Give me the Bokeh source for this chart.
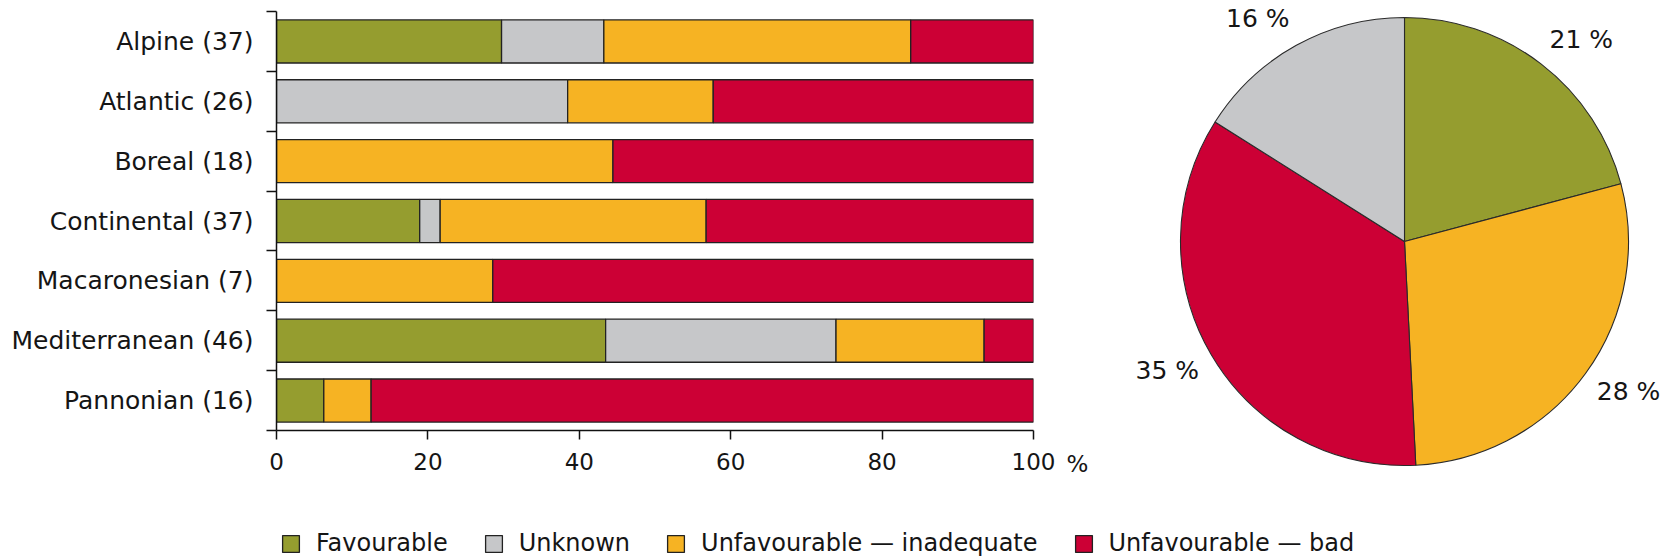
import math
from bokeh.plotting import figure
from bokeh.models import (ColumnDataSource, Range1d, FixedTicker, Legend,
                          LegendItem)
from bokeh.layouts import column, row
from bokeh.embed import file_html
from bokeh.resources import INLINE
from bokeh.core.properties import value

# ---------------- data ----------------
regions = ["Alpine", "Atlantic", "Boreal", "Continental", "Macaronesian",
           "Mediterranean", "Pannonian"]
favourable = [11, 0, 0, 7, 0, 20, 1]
unknown = [5, 10, 0, 1, 0, 14, 0]
inadequate = [15, 5, 8, 13, 2, 9, 1]
bad = [6, 11, 10, 16, 5, 3, 14]
categories = ["Favourable", "Unknown", "Unfavourable \u2014 inadequate",
              "Unfavourable \u2014 bad"]
colors = ["#959d2f", "#c6c7c9", "#f6b323", "#cc0035"]
x_ticks = [0, 20, 40, 60, 80, 100]
x_unit = "%"
pie_order = ["Favourable", "Unfavourable \u2014 inadequate",
             "Unfavourable \u2014 bad", "Unknown"]

FONT = "DejaVu Sans"
TXT = "#151515"
EDGE = "#222222"

# ---------------- bar chart ----------------
series = [favourable, unknown, inadequate, bad]
totals = [sum(v) for v in zip(*series)]
keys = ["fav", "unk", "inad", "bad"]
data = {"y": [i + 0.5 for i in range(len(regions))]}
for k, s in zip(keys, series):
    data[k] = [c / t * 100 for c, t in zip(s, totals)]
src = ColumnDataSource(data)
labels = ["%s (%d)" % (r, t) for r, t in zip(regions, totals)]

p1 = figure(width=1062, height=510, x_range=Range1d(0, 100),
            y_range=Range1d(len(regions), 0), output_backend="svg",
            toolbar_location=None, min_border_left=276, min_border_right=29,
            min_border_top=11, min_border_bottom=80)
p1.frame_align = False
p1.xgrid.visible = False
p1.ygrid.visible = False
p1.outline_line_color = None

p1.hbar_stack(keys, y="y", height=0.72, fill_color=colors, line_color=EDGE,
              line_width=1.3, source=src)

ya = p1.yaxis[0]
ya.ticker = FixedTicker(ticks=data["y"], minor_ticks=list(range(len(regions) + 1)))
ya.major_label_overrides = {y: l for y, l in zip(data["y"], labels)}
ya.major_tick_out = 0
ya.major_tick_in = 0
ya.major_tick_line_color = None
ya.minor_tick_out = 10
ya.minor_tick_in = 0
ya.minor_tick_line_color = "#111111"
ya.minor_tick_line_width = 1.5
ya.axis_line_color = "#111111"
ya.axis_line_width = 1.5
ya.major_label_standoff = 13
ya.major_label_text_font = FONT
ya.major_label_text_font_size = "25px"
ya.major_label_text_color = TXT

xa = p1.xaxis[0]
xa.ticker = FixedTicker(ticks=x_ticks, minor_ticks=[])
xa.major_tick_out = 9
xa.major_tick_in = 0
xa.major_tick_line_color = "#111111"
xa.major_tick_line_width = 1.5
xa.axis_line_color = "#111111"
xa.axis_line_width = 1.5
xa.major_label_standoff = 13
xa.major_label_text_font = FONT
xa.major_label_text_font_size = "23px"
xa.major_label_text_color = TXT

# ---------------- pie chart ----------------
pie_counts = [sum(series[categories.index(c)]) for c in pie_order]
pie_colors = [colors[categories.index(c)] for c in pie_order]
grand = sum(pie_counts)
starts, ends, lx, ly, ltxt, lalign = [], [], [], [], [], []
cum = 0.0
R = 224
for c in pie_counts:
    f0 = cum / grand
    cum += c
    f1 = cum / grand
    starts.append(math.pi / 2 - 2 * math.pi * f0)
    ends.append(math.pi / 2 - 2 * math.pi * f1)
    mid = math.pi / 2 - 2 * math.pi * (f0 + f1) / 2
    lx.append(238 * math.cos(mid))
    ly.append(255 * math.sin(mid))
    lalign.append("left" if math.cos(mid) >= 0 else "right")
    ltxt.append("%d %%" % round(c / grand * 100))

psrc = ColumnDataSource(dict(start=starts, end=ends, color=pie_colors))
lsrc = ColumnDataSource(dict(x=lx, y=ly, text=ltxt, align=lalign))
p2 = figure(width=600, height=510, x_range=Range1d(-342, 258),
            y_range=Range1d(-269, 241), output_backend="svg",
            toolbar_location=None, min_border=0,
            x_axis_location=None, y_axis_location=None)
p2.frame_align = False
p2.grid.visible = False
p2.outline_line_color = None
p2.wedge(x=0, y=0, radius=R, start_angle="start", end_angle="end",
         direction="clock", fill_color="color", line_color="#2a2a2a",
         line_width=1.1, source=psrc)
p2.text(x="x", y="y", text="text", text_align="align", text_baseline="middle",
        text_font=value(FONT), text_font_size="25px", text_color=TXT,
        source=lsrc)
# unit label of the bar chart's x axis (sits just right of the "100" tick)
p2.text(x=[-327], y=[-222], text=[x_unit], text_align="center",
        text_baseline="middle", text_font=value(FONT), text_font_size="23px",
        text_color=TXT)

# ---------------- legend ----------------
pl = figure(width=1662, height=47, x_range=Range1d(0, 1), y_range=Range1d(0, 1),
            output_backend="svg", toolbar_location=None, min_border=0,
            x_axis_location=None, y_axis_location=None)
pl.frame_align = False
pl.grid.visible = False
pl.outline_line_color = None
items = []
for c, col in zip(categories, colors):
    # off-screen proxy glyph, only used to draw the legend swatch
    r = pl.rect(x=[-5], y=[-5], width=0.01, height=0.01, fill_color=col,
                line_color=EDGE, line_width=1.3)
    items.append(LegendItem(label=c, renderers=[r]))
leg = Legend(items=items, orientation="horizontal", location=(280, 0),
             glyph_width=21, glyph_height=21, label_standoff=15, spacing=35,
             padding=0, margin=0, border_line_color=None,
             background_fill_alpha=0, label_text_font=FONT,
             label_text_font_size="24px", label_text_color=TXT,
             label_height=21)
pl.add_layout(leg)

layout = column(row(p1, p2), pl)
open("out.html", "w").write(file_html(layout, INLINE))
